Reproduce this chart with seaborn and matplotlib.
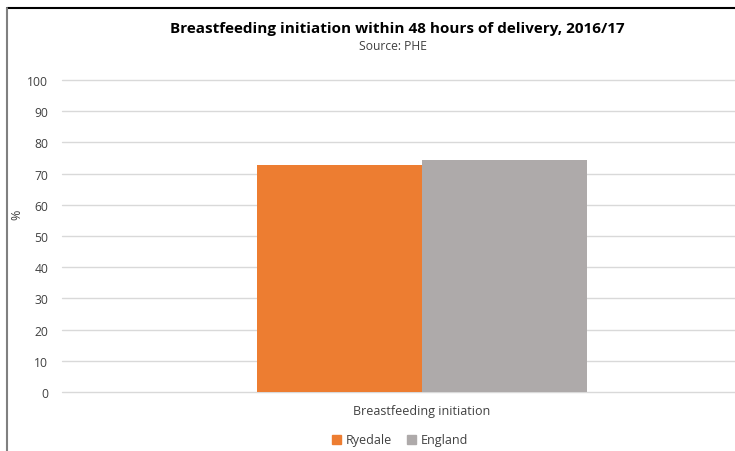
import matplotlib
matplotlib.use("Agg")
import matplotlib.pyplot as plt
import seaborn as sns
import pandas as pd
from matplotlib.lines import Line2D

categories = ["Breastfeeding initiation", "Breastfeeding initiation"]
areas = ["Ryedale", "England"]
values = [72.6, 74.5]
yticks = [0, 10, 20, 30, 40, 50, 60, 70, 80, 90, 100]
colors = {"Ryedale": "#ed7d31", "England": "#aeaaaa"}

df = pd.DataFrame({"category": categories, "area": areas, "value": values})

sns.set_theme(style="white")
plt.rcParams["font.family"] = ["Open Sans", "DejaVu Sans"]

fig = plt.figure(figsize=(7.35, 4.52), dpi=100)
ax = fig.add_axes([62/735, 1-393/452, 720/735, 312/452])

sns.barplot(data=df, x="category", y="value", hue="area", palette=colors,
            width=0.457, saturation=1, ax=ax, legend=False, linewidth=0)

ax.set_ylim(0, 100)
ax.set_xlim(-0.5, 0.5)
ax.set_yticks(yticks)
ax.set_yticklabels([str(t) for t in yticks], fontsize=8.7, color="#404040")
ax.yaxis.grid(True, color="#d9d9d9", linewidth=1)
ax.set_axisbelow(True)
for sp in ax.spines.values():
    sp.set_visible(False)
ax.tick_params(axis="y", length=0, pad=10)
ax.tick_params(axis="x", length=0, pad=9, labelsize=9, labelcolor="#404040")
ax.set_xlabel("")
ax.set_ylabel("%", fontsize=9, color="#404040")
ax.yaxis.set_label_coords((23 - 62) / 720, (393 - 215) / 312)
for gl in ax.get_ygridlines():
    gl.set_clip_on(False)

fig.text(397/735, 1-29/452, "Breastfeeding initiation within 48 hours of delivery, 2016/17",
         ha="center", va="center", fontsize=11, fontweight="bold", color="black")
fig.text(393/735, 1-47/452, "Source: PHE", ha="center", va="center",
         fontsize=8.7, color="#404040")

handles = [plt.Rectangle((0, 0), 1, 1, color=colors[a]) for a in areas]
fig.legend(handles, areas, loc="center", bbox_to_anchor=(400/735, 1-441/452),
           ncol=2, frameon=False, fontsize=9, handlelength=0.7, handleheight=0.7,
           handletextpad=0.4, columnspacing=1.2, labelcolor="#404040")

fig.add_artist(Line2D([6.5/735, 1], [1-9/452, 1-9/452], color="black", linewidth=1.5,
                      transform=fig.transFigure))
fig.add_artist(Line2D([6.5/735, 6.5/735], [0, 1-9/452], color="#808080", linewidth=1.5,
                      transform=fig.transFigure))

fig.savefig("out.png", dpi=100)
